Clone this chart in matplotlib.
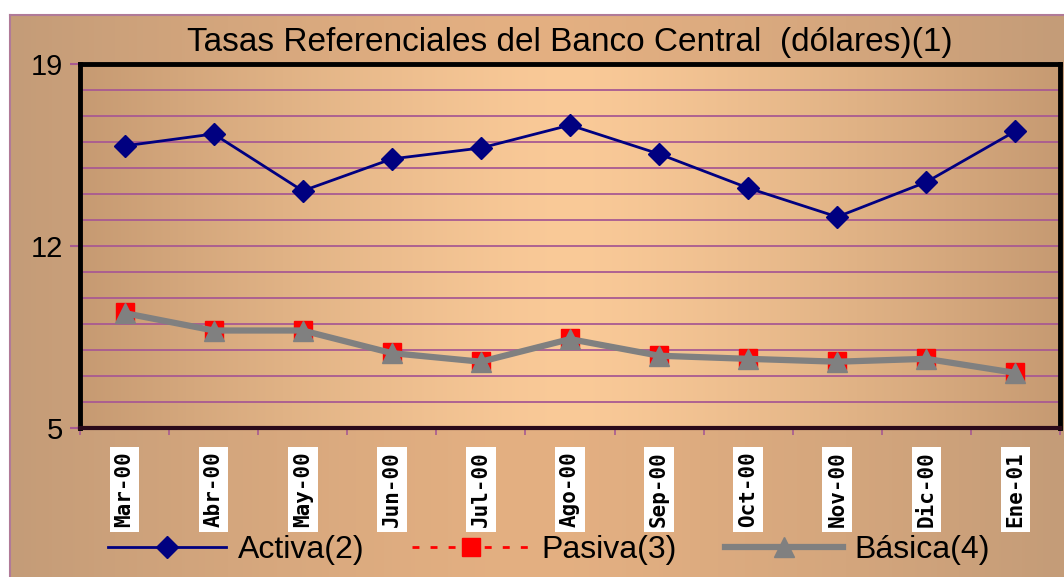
import numpy as np
import matplotlib
matplotlib.use("Agg")
import matplotlib.pyplot as plt
from matplotlib.ticker import FixedLocator

months = ["Mar-00", "Abr-00", "May-00", "Jun-00", "Jul-00", "Ago-00",
          "Sep-00", "Oct-00", "Nov-00", "Dic-00", "Ene-01"]
activa = [15.85, 16.31, 14.12, 15.35, 15.77, 16.65, 15.54, 14.23, 13.12, 14.46, 16.42]
pasiva = [9.46, 8.77, 8.77, 7.92, 7.58, 8.46, 7.81, 7.69, 7.58, 7.69, 7.15]
basica = [9.42, 8.75, 8.75, 7.88, 7.55, 8.42, 7.78, 7.66, 7.55, 7.66, 7.12]
title = "Tasas Referenciales del Banco Central  (dólares)(1)"
labels = ["Activa(2)", "Pasiva(3)", "Básica(4)"]

W, H = 1064, 577
fig = plt.figure(figsize=(W / 100, H / 100), dpi=100)
fig.patch.set_facecolor("white")

def hgrad(edge, center, n=512):
    t = np.linspace(-1, 1, n)
    w = 1 - np.abs(t) ** 1.3
    e = np.array(edge) / 255.0
    c = np.array(center) / 255.0
    row = e[None, :] + (c - e)[None, :] * w[:, None]
    return row[None, :, :]

# outer background
bg = fig.add_axes([10 / W, 0, 1 - 10 / W, 1 - 15 / H], zorder=-5)
bg.imshow(hgrad((196, 156, 120), (228, 176, 130)), aspect="auto",
          extent=[0, 1, 0, 1], interpolation="bilinear")
bg.set_xlim(0, 1); bg.set_ylim(0, 1)
bg.set_xticks([]); bg.set_yticks([])
for s in bg.spines.values():
    s.set_color("#B07A98"); s.set_linewidth(1.5)
bg.spines["bottom"].set_visible(False)
bg.spines["right"].set_visible(False)

# plot area
L, R, T, B = 80, 1060, 64, 428
ax = fig.add_axes([L / W, 1 - B / H, (R - L) / W, (B - T) / H])
x = np.arange(len(months))
ax.set_xlim(-0.5, len(months) - 0.5)
ax.set_ylim(5, 19)
ax.imshow(hgrad((198, 154, 114), (250, 202, 152)), aspect="auto",
          extent=[-0.5, len(months) - 0.5, 5, 19], interpolation="bilinear", zorder=0)

for yv in range(6, 19):
    ax.axhline(yv, color="#A85A92", lw=1.3, zorder=1)

ax.plot(x, activa, color="#000080", lw=2, marker="D", markersize=11,
        zorder=4, label=labels[0])
ax.plot(x, pasiva, color="#FF0000", lw=2, ls=(0, (2.5, 4)), marker="s",
        markersize=13, zorder=3, label=labels[1])
ax.plot(x, basica, color="#808080", lw=4.5, marker="^", markersize=15,
        zorder=3.5, label=labels[2])

ax.yaxis.set_major_locator(FixedLocator([5, 12, 19]))
ax.set_yticklabels(["5", "12", "19"], fontsize=21, family=["Liberation Sans", "DejaVu Sans"])
ax.tick_params(axis="y", length=7, color="#A85A92", width=1.5, pad=5)

ax.set_xticks(x)
ax.set_xticklabels(months, rotation=90, fontsize=15, family="DejaVu Sans Mono",
                   fontweight="bold", va="top", ha="center")
for t in ax.get_xticklabels():
    t.set_bbox(dict(facecolor="white", edgecolor="none", pad=3.5))
ax.tick_params(axis="x", length=0, pad=17)
ax.xaxis.set_minor_locator(FixedLocator(np.arange(-0.5, len(months), 1)))
ax.tick_params(axis="x", which="minor", length=5, color="#A85A92", width=1.2)

for s in ax.spines.values():
    s.set_color("black"); s.set_linewidth(3.5)
ax.spines["bottom"].set_linewidth(3)
ax.spines["bottom"].set_color("#2a0a1a")

fig.text(0.536, 1 - 42 / H, title, ha="center", va="center", fontsize=24,
         family=["Liberation Sans Narrow", "Liberation Sans", "DejaVu Sans"])

leg = fig.legend(*ax.get_legend_handles_labels(), loc="center",
                 bbox_to_anchor=(0.516, 1 - 550 / H), ncol=3, frameon=False,
                 prop={"family": ["Liberation Sans", "DejaVu Sans"], "size": 23},
                 handlelength=3.7, columnspacing=1.5, handletextpad=0.35)

fig.savefig("out.png", dpi=100)
